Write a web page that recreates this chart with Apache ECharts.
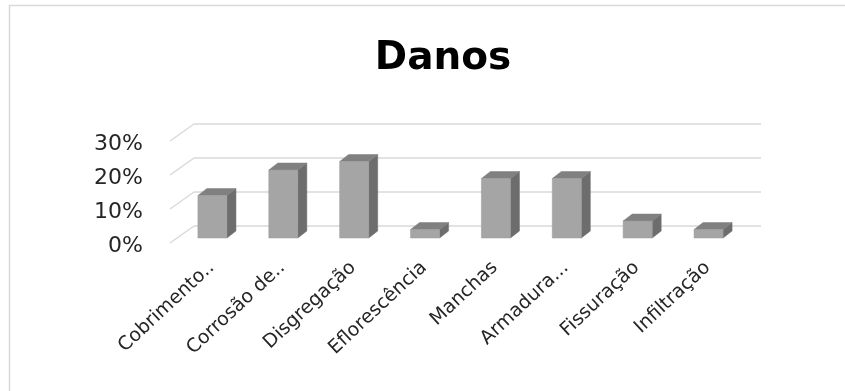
<!DOCTYPE html>
<html>
<head>
<meta charset="utf-8">
<script src="https://cdn.jsdelivr.net/npm/echarts@6/dist/echarts.min.js"></script>
<style>
  html, body { margin: 0; padding: 0; background: #fff; }
  #chart { width: 845px; height: 391px; }
</style>
</head>
<body>
<div id="chart"></div>
<script>
// Danos - 3D column chart (Excel style)
var categories = ['Cobrimento..', 'Corrosão de..', 'Disgregação', 'Eflorescência', 'Manchas', 'Armadura...', 'Fissuração', 'Infiltração']
var values = [0.125, 0.20, 0.225, 0.025, 0.175, 0.175, 0.05, 0.025]
var yTicks = [0, 0.1, 0.2, 0.3]

var chart = echarts.init(document.getElementById('chart'))

// depth of one bar and of the whole floor (px)
var barDx = 9, barDy = -7
var wallDx = 17, wallDy = -12
var frontDx = -7, frontDy = 5

function renderBar(params, api) {
  var idx = api.value(0)
  var base = api.coord([idx, 0])
  var top = api.coord([idx, api.value(1)])
  var band = api.size([1, 0])[0]
  var w = band * 0.41
  var l = base[0] - w / 2, r = base[0] + w / 2
  var yb = base[1], yt = top[1]
  return {
    type: 'group',
    children: [
      { type: 'polygon', shape: { points: [[r, yt], [r + barDx, yt + barDy], [r + barDx, yb + barDy], [r, yb]] },
        style: { fill: '#6d6d6d', stroke: '#6d6d6d', lineWidth: 0.5 } },
      { type: 'polygon', shape: { points: [[l, yt], [r, yt], [r + barDx, yt + barDy], [l + barDx, yt + barDy]] },
        style: { fill: '#808080', stroke: '#808080', lineWidth: 0.5 } },
      { type: 'rect', shape: { x: l, y: yt, width: w, height: yb - yt },
        style: { fill: '#a5a5a5', stroke: '#9a9a9a', lineWidth: 0.5 } }
    ]
  }
}

function renderSideGrid(params, api) {
  var p = api.coord([0, api.value(0)])
  var x0 = params.coordSys.x
  return {
    type: 'line',
    shape: { x1: x0 + frontDx, y1: p[1] + frontDy, x2: x0 + wallDx, y2: p[1] + wallDy },
    style: { stroke: '#d9d9d9', lineWidth: 1.5 }
  }
}

var option = {
  animation: false,
  backgroundColor: '#fff',
  title: {
    text: 'Danos',
    left: 438,
    textAlign: 'center',
    top: 34,
    textStyle: { fontFamily: 'DejaVu Sans', fontWeight: 'bold', fontSize: 39, color: '#000' }
  },
  graphic: [
    { type: 'line', shape: { x1: 9, y1: 5.5, x2: 845, y2: 5.5 }, style: { stroke: '#d9d9d9', lineWidth: 1.5 } },
    { type: 'line', shape: { x1: 9.5, y1: 5, x2: 9.5, y2: 391 }, style: { stroke: '#d9d9d9', lineWidth: 1.5 } }
  ],
  grid: [
    { left: 177, top: 136, width: 567, height: 102 },              // bars
    { left: 177 + wallDx, top: 136 + wallDy, width: 567, height: 102 }, // back wall
    { left: 176, top: 144, width: 567, height: 102 }               // axis labels (front edge)
  ],
  xAxis: [
    { type: 'category', gridIndex: 0, data: categories, axisLine: { show: false }, axisTick: { show: false }, axisLabel: { show: false } },
    { type: 'category', gridIndex: 1, data: categories, show: false },
    { type: 'category', gridIndex: 2, data: categories, axisLine: { show: false }, axisTick: { show: false },
      axisLabel: { rotate: 43, margin: 19, interval: 0, fontFamily: 'DejaVu Sans', fontSize: 19, color: '#262626' } }
  ],
  yAxis: [
    { type: 'value', gridIndex: 0, min: 0, max: 0.3, interval: 0.1, show: false },
    { type: 'value', gridIndex: 1, min: 0, max: 0.3, interval: 0.1,
      axisLine: { show: false }, axisTick: { show: false }, axisLabel: { show: false },
      splitLine: { lineStyle: { color: '#d9d9d9', width: 1.5 } } },
    { type: 'value', gridIndex: 2, min: 0, max: 0.3, interval: 0.1, splitLine: { show: false },
      axisLine: { show: false }, axisTick: { show: false },
      axisLabel: { margin: 33, fontFamily: 'DejaVu Sans', fontSize: 22, color: '#262626',
        formatter: function (v) { return Math.round(v * 100) + '%' } } }
  ],
  series: [
    {
      type: 'custom',
      xAxisIndex: 0, yAxisIndex: 0,
      renderItem: renderSideGrid,
      data: yTicks.map(function (t) { return [t] }),
      silent: true,
      z: 1
    },
    {
      type: 'custom',
      xAxisIndex: 0, yAxisIndex: 0,
      renderItem: renderBar,
      encode: { x: 0, y: 1 },
      data: values.map(function (v, i) { return [i, v] }),
      z: 3
    }
  ]
}

chart.setOption(option)
</script>
</body>
</html>
